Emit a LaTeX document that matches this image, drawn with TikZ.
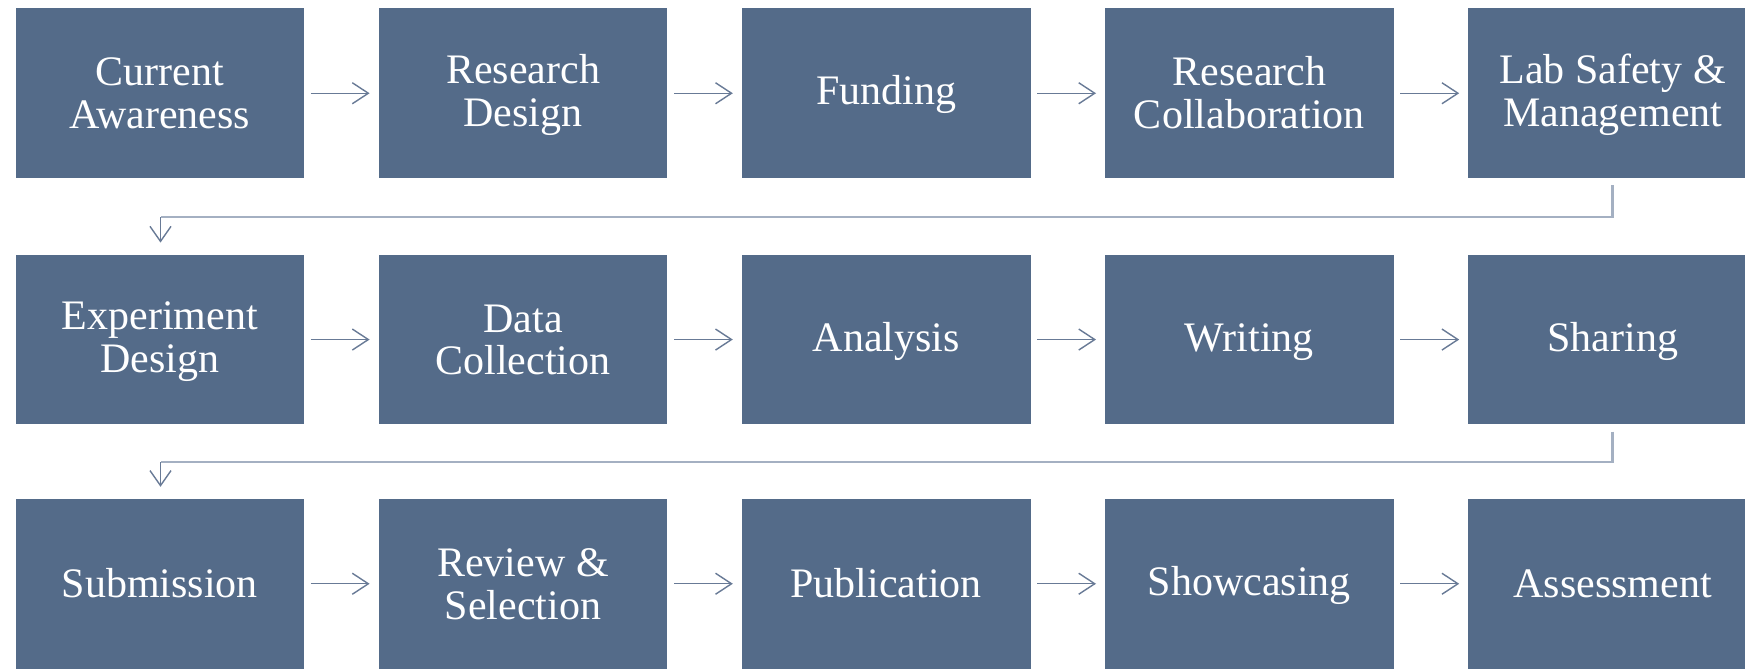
\documentclass[tikz,border=0pt]{standalone}
\usepackage{fontspec}
\setmainfont{Liberation Serif}
\usetikzlibrary{arrows.meta}
\definecolor{boxfill}{RGB}{84,107,137}
\definecolor{arrcol}{RGB}{104,122,150}
\definecolor{linkcol}{RGB}{164,176,194}
\newcommand\tstrut{\rule[-4pt]{0pt}{36pt}}
\begin{document}
\begin{tikzpicture}[x=1pt,y=-1pt,
  stage/.style={rectangle, fill=boxfill, minimum width=288.5pt, minimum height=169.5pt,
    inner sep=0pt, text=white, align=center, font=\fontsize{42}{42.7}\selectfont},
  flow/.style={draw=arrcol, line width=1.4pt,
    -{Straight Barb[length=16pt,width=21pt,line width=1.4pt]},
    shorten <=6.5pt, shorten >=9pt},
  drop/.style={draw=arrcol, line width=1.4pt,
    -{Straight Barb[length=15pt,width=21pt,line width=1.4pt]},
    shorten >=12pt},
  link/.style={draw=linkcol, line width=2.8pt},
]
\useasboundingbox (0,0) rectangle (1745,669);
\clip (0,0) rectangle (1745,669);
\fill[white] (0,0) rectangle (1745,669);

% row 1
\node[stage] (r1c1) at (159.85, 93.25) {\tstrut Current\\\tstrut Awareness};
\node[stage] (r1c2) at (523.05, 93.25) {\tstrut Research\\\tstrut Design};
\node[stage] (r1c3) at (886.25, 93.25) {\tstrut Funding};
\node[stage] (r1c4) at (1249.45, 93.25) {\tstrut Research\\\tstrut Collaboration};
\node[stage] (r1c5) at (1612.65, 93.25) {\tstrut Lab Safety \&\\\tstrut Management};
% row 2
\node[stage] (r2c1) at (159.85, 339.55) {\tstrut Experiment\\\tstrut Design};
\node[stage] (r2c2) at (523.05, 339.55) {\tstrut Data\\\tstrut Collection};
\node[stage] (r2c3) at (886.25, 339.55) {\tstrut Analysis};
\node[stage] (r2c4) at (1249.45, 339.55) {\tstrut Writing};
\node[stage] (r2c5) at (1612.65, 339.55) {\tstrut Sharing};
% row 3
\node[stage] (r3c1) at (159.85, 583.75) {\tstrut Submission};
\node[stage] (r3c2) at (523.05, 583.75) {\tstrut Review \&\\\tstrut Selection};
\node[stage] (r3c3) at (886.25, 583.75) {\tstrut Publication};
\node[stage] (r3c4) at (1249.45, 583.75) {\tstrut Showcasing};
\node[stage] (r3c5) at (1612.65, 583.75) {\tstrut Assessment};

% horizontal arrows
\foreach \r in {1,2,3}{
  \draw[flow] (r\r c1) -- (r\r c2);
  \draw[flow] (r\r c2) -- (r\r c3);
  \draw[flow] (r\r c3) -- (r\r c4);
  \draw[flow] (r\r c4) -- (r\r c5);
}

% row transitions
\coordinate (k1) at (160.5, 217);
\coordinate (k2) at (160.5, 462);
\draw[link] ([yshift=-7pt]r1c5.south) |- (k1);
\draw[drop] (k1) -- (k1 |- r2c1.north);
\draw[link] ([yshift=-7pt]r2c5.south) |- (k2);
\draw[drop] (k2) -- (k2 |- r3c1.north);
\end{tikzpicture}
\end{document}
